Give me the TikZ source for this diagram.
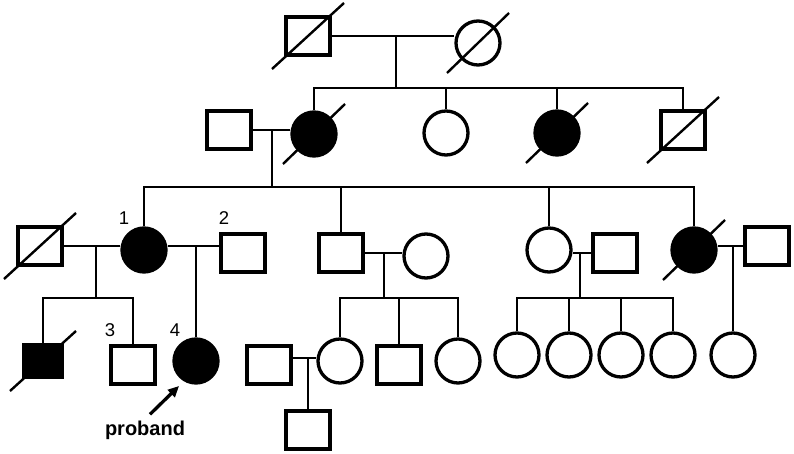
\documentclass[tikz,border=0pt]{standalone}
\usepackage{fontspec}
\setmainfont{Liberation Sans}
\usetikzlibrary{arrows.meta}

\begin{document}
\begin{tikzpicture}[
  x=1pt, y=-1pt,
  male/.style={rectangle, draw, line width=3.3pt, minimum width=44pt, minimum height=38pt,
               inner sep=0pt, fill=white},
  female/.style={circle, draw, line width=3.3pt, minimum size=44pt, inner sep=0pt, fill=white},
  affected/.style={fill=black},
  link/.style={line width=2.1pt},
  slash/.style={line width=2.4pt},
  num/.style={font=\fontsize{18.5}{18.5}\selectfont, inner sep=0pt},
  arr/.style={-{Triangle[length=11pt, width=10pt]}, line width=3.3pt},
]
\useasboundingbox (0,0) rectangle (794,454);

%% Generation I
\node[male]   (I1) at (308,36) {};
\node[female] (I2) at (478,43) {};

%% Generation II
\node[male]             (II1) at (229,130) {};
\node[female, affected] (II2) at (314,134) {};
\node[female]           (II3) at (446,133) {};
\node[female, affected] (II4) at (557,133) {};
\node[male]             (II5) at (683,130) {};

%% Generation III
\node[male]             (III1) at (40,246) {};
\node[female, affected] (III2) at (144,250) {};
\node[male]             (III3) at (243,253) {};
\node[male]             (III4) at (341,253) {};
\node[female]           (III5) at (426,256) {};
\node[female]           (III6) at (549,250) {};
\node[male]             (III7) at (615,253) {};
\node[female, affected] (III8) at (694,250) {};
\node[male]             (III9) at (767,246) {};

%% Generation IV
\node[male, affected, minimum width=39pt, minimum height=33pt] (IV1) at (43,361) {};
\node[male]             (IV2) at (133,365) {};
\node[female, affected] (IV3) at (196,361) {};
\node[male]             (IV4) at (269,365) {};
\node[female]           (IV5) at (340,361) {};
\node[male]             (IV6) at (399,365) {};
\node[female]           (IV7) at (458,361) {};
\foreach \i/\x in {8/517, 9/569, 10/621, 11/673}
  \node[female] (IV\i) at (\x,355) {};
\node[female]           (IV12) at (733,355) {};

%% Generation V
\node[male] (V1) at (308,430) {};

%% Deceased
\foreach \n in {I1, II5, III1}
  \draw[slash] ([shift={(-36,33)}]\n.center) -- ([shift={(36,-33)}]\n.center);
\foreach \n in {I2, II2, II4, III8}
  \draw[slash] ([shift={(-31,30)}]\n.center) -- ([shift={(31,-30)}]\n.center);
\draw[slash] ([shift={(-33,30)}]IV1.center) -- ([shift={(33,-30)}]IV1.center);

%% Junctions
\coordinate (mI)    at (396,37);
\coordinate (sII)   at (396,88);
\coordinate (mII)   at (272,130);
\coordinate (sIII)  at (272,187);
\coordinate (mIIIa) at (96,246);
\coordinate (sIVa)  at (96,298);
\coordinate (mIIIc) at (384,252);
\coordinate (sIVb)  at (384,298);
\coordinate (mIIId) at (580,253);
\coordinate (sIVc)  at (580,298);
\coordinate (mIV)   at (305,358);

%% Lines I -> II
\draw[link] (I1.east) -- (I2.west |- I1.east);
\draw[link] (mI) -- (sII);
\draw[link] (II2.north) |- (sII) -| (II5.north);
\foreach \c in {II3, II4}
  \draw[link] (\c.north) -- (\c.north |- sII);

%% Lines II -> III
\draw[link] (II1.east) -- (II2.west |- II1.east);
\draw[link] (mII) -- (sIII);
\draw[link] (III2.north) |- (sIII) -| (III8.north);
\foreach \c in {III4, III6}
  \draw[link] (\c.north) -- (\c.north |- sIII);

%% Lines III -> IV
\draw[link] (III1.east) -- (III2.west |- III1.east);
\draw[link] (mIIIa) -- (sIVa);
\draw[link] (IV1.north) |- (sIVa) -| (IV2.north);
\draw[link] (III2.east |- III1.east) -- (III3.west |- III1.east);
\draw[link] (IV3.north) -- (IV3.north |- III1.east);
\draw[link] (III4.east) -- (III5.west |- III4.east);
\draw[link] (mIIIc) -- (sIVb);
\draw[link] (IV5.north) |- (sIVb) -| (IV7.north);
\draw[link] (IV6.north) -- (IV6.north |- sIVb);
\draw[link] (III7.west) -- (III6.east |- III7.west);
\draw[link] (mIIId) -- (sIVc);
\draw[link] (IV8.north) |- (sIVc) -| (IV11.north);
\foreach \c in {IV9, IV10}
  \draw[link] (\c.north) -- (\c.north |- sIVc);
\draw[link] (III9.west) -- (III8.east |- III9.west);
\draw[link] (IV12.north) -- (IV12.north |- III9.west);

%% Lines IV -> V
\draw[link] (IV4.east |- mIV) -- (IV5.west |- mIV);
\draw[link] (V1.north) -- (V1.north |- mIV);

%% Numbers
\node[num] at ([shift={(-20,-32)}]III2.center) {1};
\node[num] at ([shift={(-19,-35)}]III3.center) {2};
\node[num] at ([shift={(-23,-35)}]IV2.center)  {3};
\node[num] at ([shift={(-21,-31)}]IV3.center)  {4};

%% Proband
\node[font=\bfseries\fontsize{20}{20}\selectfont, inner sep=0pt, anchor=base]
  (proband) at (145,435) {proband};
\draw[arr] ([shift={(5,-6)}]proband.north) -- ([shift={(-17,25)}]IV3.center);

\end{tikzpicture}
\end{document}
